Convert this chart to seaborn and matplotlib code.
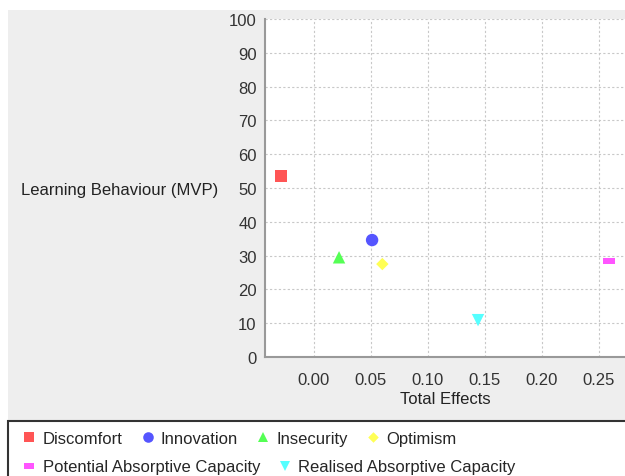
import numpy as np
import pandas as pd
import matplotlib
matplotlib.use("Agg")
import matplotlib.pyplot as plt
from matplotlib.path import Path
from matplotlib.patches import Rectangle
import seaborn as sns

# data
factors = ['Discomfort', 'Innovation', 'Insecurity', 'Optimism',
           'Potential Absorptive Capacity', 'Realised Absorptive Capacity']
total_effects = [-0.029, 0.051, 0.022, 0.060, 0.259, 0.144]
learning_mvp = [53.5, 34.6, 29.5, 27.5, 28.3, 10.9]

x_ticks = [0.00, 0.05, 0.10, 0.15, 0.20, 0.25]
y_ticks = list(range(0, 101, 10))

colors = ['#ff5555', '#5555ff', '#55ff55', '#ffff55', '#ff55ff', '#55ffff']
diamond = Path([(0, 0.5), (0.5, 0), (0, -0.5), (-0.5, 0), (0, 0.5)], closed=True)
flat_rect = Path([(-1, -0.5), (1, -0.5), (1, 0.5), (-1, 0.5), (-1, -0.5)], closed=True)
marker_list = ['s', 'o', '^', diamond, flat_rect, 'v']

df = pd.DataFrame({'factor': factors, 'effect': total_effects, 'mvp': learning_mvp})

sns.set_style('white')
plt.rcParams['font.family'] = ['Liberation Sans', 'DejaVu Sans']

fig = plt.figure(figsize=(6.25, 4.77), dpi=100)
# grey panel and legend box
fig.patches.append(Rectangle((8 / 625, 55 / 477), 1, 1 - 11 / 477 - 55 / 477,
                             transform=fig.transFigure, facecolor='#eeeeee',
                             edgecolor='none', zorder=-2))
fig.patches.append(Rectangle((8 / 625, -0.01), 1, 55 / 477 + 0.01,
                             transform=fig.transFigure, facecolor='white',
                             edgecolor='#333333', linewidth=1.5, zorder=-2))

ax = fig.add_axes([265 / 625, 119 / 477, 360 / 625, 338 / 477])
sns.scatterplot(data=df, x='effect', y='mvp', hue='factor', style='factor',
                palette=dict(zip(factors, colors)),
                markers=dict(zip(factors, marker_list)),
                s=80, linewidth=0, ax=ax, zorder=3)

ax.set_xlim(-0.043, 0.273)
ax.set_ylim(0, 100)
ax.set_xticks(x_ticks)
ax.set_xticklabels([f'{t:.2f}' for t in x_ticks])
ax.set_yticks(y_ticks)
ax.grid(True, color='#c8c8c8', linestyle=(0, (2, 2)), linewidth=0.8)
for side in ['top', 'right']:
    ax.spines[side].set_visible(False)
for side in ['left', 'bottom']:
    ax.spines[side].set_color('#999999')
    ax.spines[side].set_linewidth(1.5)
ax.tick_params(axis='both', direction='out', length=3, width=1, color='#999999',
               labelsize=12, labelcolor='#333333', pad=3)
ax.tick_params(axis='x', pad=8)
ax.set_xlabel('Total Effects', fontsize=12, color='#222222', labelpad=3)
ax.set_ylabel('Learning Behaviour (MVP)', fontsize=12, color='#222222',
              rotation=0, ha='right', va='center')
ax.yaxis.set_label_coords(-0.131, 0.497)

handles, labels = ax.get_legend_handles_labels()
ax.get_legend().remove()
leg_kw = dict(frameon=False, fontsize=12, handlelength=1.0, handletextpad=0.3,
              columnspacing=1.0, loc='center left', borderaxespad=0, borderpad=0,
              markerscale=0.85)
leg1 = fig.legend(handles[:4], labels[:4], ncol=4, bbox_to_anchor=(21 / 625, 0.078), **leg_kw)
leg2 = fig.legend(handles[4:], labels[4:], ncol=2, bbox_to_anchor=(21 / 625, 0.019), **leg_kw)

fig.savefig('out.png', dpi=100, facecolor='white')
